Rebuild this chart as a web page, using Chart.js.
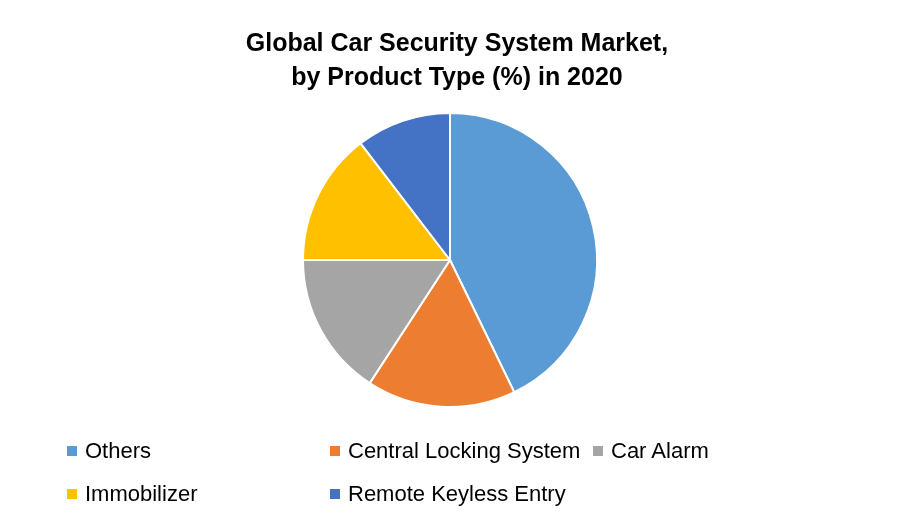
<!DOCTYPE html>
<html>
<head>
<meta charset="utf-8">
<script src="https://cdn.jsdelivr.net/npm/chart.js@4/dist/chart.umd.min.js"></script>
<style>
  html, body { margin: 0; padding: 0; background: #fff; }
  #wrap { position: relative; width: 900px; height: 525px; }
  #pieChart { position: absolute; left: 0; top: 0; }
  .legend { position: absolute; left: 0; top: 0; width: 900px; height: 525px; pointer-events: none;
    font-family: "Liberation Sans", Arial, sans-serif; font-size: 22px; color: #000; }
  .legend-item { position: absolute; display: flex; align-items: center; white-space: nowrap; transform: translateY(-50%); }
  .legend-box { width: 10px; height: 10px; margin-right: 8px; }
</style>
</head>
<body>
<div id="wrap">
  <canvas id="pieChart" width="900" height="525"></canvas>
  <div class="legend" id="legend"></div>
</div>
<script>
const titleLines = ["Global Car Security System Market,", "by Product Type (%) in 2020"];
const categories = ["Others", "Central Locking System", "Car Alarm", "Immobilizer", "Remote Keyless Entry"];
const shares = [42.8, 16.4, 15.8, 14.6, 10.4];
const colors = ["#5B9BD5", "#ED7D31", "#A5A5A5", "#FFC000", "#4472C4"];

// legend grid: 3 columns, 2 rows
const legendCols = [67, 330, 593];
const legendRows = [451, 494];

const pieChart = new Chart(document.getElementById("pieChart"), {
  type: "pie",
  data: {
    labels: categories,
    datasets: [{
      data: shares,
      backgroundColor: colors,
      borderColor: "#ffffff",
      borderWidth: 2
    }]
  },
  options: {
    responsive: false,
    animation: false,
    layout: {
      padding: { top: 0, bottom: 117, left: 0, right: 0 }
    },
    plugins: {
      legend: { display: false },
      tooltip: { enabled: false },
      title: {
        display: true,
        // leading spaces nudge the title a bit right of the pie centre, like the original
        text: titleLines.map(t => "  " + t),
        color: "#000",
        font: { family: "'Liberation Sans', Arial, sans-serif", size: 25, weight: "bold", lineHeight: 1.36 },
        padding: { top: 27, bottom: 17 }
      }
    }
  }
});

const legendEl = document.getElementById("legend");
legendEl.innerHTML = categories.map((name, i) => {
  const x = legendCols[i % 3];
  const y = legendRows[Math.floor(i / 3)];
  return `<div class="legend-item" style="left:${x}px;top:${y}px">
    <span class="legend-box" style="background:${colors[i]}"></span>${name}</div>`;
}).join("");
</script>
</body>
</html>
